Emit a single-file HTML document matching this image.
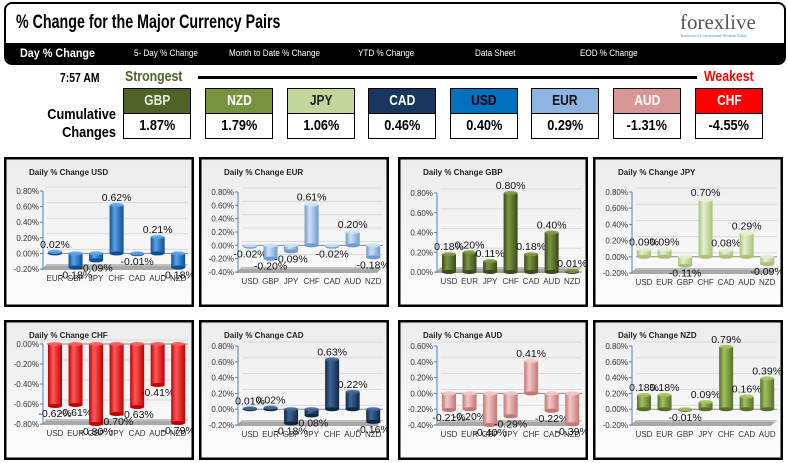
<!DOCTYPE html>
<html><head><meta charset="utf-8">
<style>
body{margin:0;width:788px;height:463px;background:#fff;position:relative;overflow:hidden;font-family:"Liberation Sans",sans-serif}
.abs{position:absolute}
.hdr{left:4px;top:2px;width:778px;height:59px;border:2px solid #000;border-radius:8px;background:#fff;overflow:hidden}
.nav{left:0;top:39px;width:778px;height:22px;background:#000}
.nav span{position:absolute;top:5px;color:#fff;font-size:9px;transform:scaleX(.9);transform-origin:left}
.title{left:10px;top:8px;font-weight:bold;font-size:19px;transform:scaleX(.75);transform-origin:left;white-space:nowrap}
.box{width:66px;height:49px;border:1px solid #000;top:88px}
.box .h{height:24px;border-bottom:1px solid #000;text-align:center;font-weight:bold;font-size:15px;line-height:24px}
.box .h span{display:inline-block;transform:scaleX(.8)}
.box .v{height:24px;text-align:center;font-weight:bold;font-size:15px;line-height:24px;background:#fff}
.box .v span{display:inline-block;transform:scaleX(.85)}
svg text{font-family:"Liberation Sans",sans-serif}
</style></head><body>
<div class="abs hdr">
  <div class="abs title">% Change for the Major Currency Pairs</div>
  <div class="abs" style="left:674px;top:6px;font-family:'Liberation Serif',serif;font-size:21px;color:#555">forexlive<div style="font-size:4px;color:#4a8ac0;margin-top:-2px">Tomorrow's Conventional Wisdom Today</div></div>
  <div class="abs nav">
    <span style="left:14px;top:3px;font-size:12px;font-weight:bold">Day % Change</span>
    <span style="left:128px">5- Day % Change</span>
    <span style="left:223px">Month to Date % Change</span>
    <span style="left:352px">YTD % Change</span>
    <span style="left:469px">Data Sheet</span>
    <span style="left:574px">EOD % Change</span>
  </div>
</div>
<div class="abs" style="left:60px;top:70px;font-weight:bold;font-size:13px;transform:scaleX(.8);transform-origin:left">7:57 AM</div>
<div class="abs" style="left:125px;top:68px;font-weight:bold;font-size:15px;color:#4f6228;transform:scaleX(.82);transform-origin:left">Strongest</div>
<div class="abs" style="left:198px;top:76px;width:499px;height:3px;background:#000"></div>
<div class="abs" style="left:704px;top:68px;font-weight:bold;font-size:15px;color:#f00;transform:scaleX(.82);transform-origin:left">Weakest</div>
<div class="abs" style="left:20px;top:106px;width:96px;text-align:right;font-weight:bold;font-size:15px;line-height:18px;transform:scaleX(.85);transform-origin:right">Cumulative<br>Changes</div>
<div id="boxes"></div>
<div id="charts"></div>
<script>
const boxCurr=["GBP","NZD","JPY","CAD","USD","EUR","AUD","CHF"];
const boxVals=["1.87%","1.79%","1.06%","0.46%","0.40%","0.29%","-1.31%","-4.55%"];
const boxBg=["#4f6228","#77933c","#c3d69b","#17375e","#0070c0","#8db4e2","#d99694","#ff0000"];
const boxFg=["#e8ecd8","#fff","#222","#fff","#000","#111","#fff","#fff"];
const boxX=[123,205,287,368,450,531,613,695];
const bc=document.getElementById('boxes');
boxCurr.forEach((c,i)=>{
  const d=document.createElement('div');
  d.className='abs box';d.style.left=boxX[i]+'px';
  
  
  d.innerHTML='<div class="h" style="background:'+boxBg[i]+';color:'+boxFg[i]+'"><span>'+c+'</span></div><div class="v"><span>'+boxVals[i]+'</span></div>';
  bc.appendChild(d);
});

const usdCats=["EUR","GBP","JPY","CHF","CAD","AUD","NZD"];
const usdVals=[0.02,-0.18,-0.09,0.62,-0.01,0.21,-0.18];
const usdTicks=[0.8,0.6,0.4,0.2,0,-0.2];
const eurCats=["USD","GBP","JPY","CHF","CAD","AUD","NZD"];
const eurVals=[-0.02,-0.20,-0.09,0.61,-0.02,0.20,-0.18];
const eurTicks=[0.8,0.6,0.4,0.2,0,-0.2,-0.4];
const gbpCats=["USD","EUR","JPY","CHF","CAD","AUD","NZD"];
const gbpVals=[0.18,0.20,0.11,0.80,0.18,0.40,0.01];
const gbpTicks=[0.8,0.6,0.4,0.2,0];
const jpyCats=["USD","EUR","GBP","CHF","CAD","AUD","NZD"];
const jpyVals=[0.09,0.09,-0.11,0.70,0.08,0.29,-0.09];
const jpyTicks=[0.8,0.6,0.4,0.2,0,-0.2];
const chfCats=["USD","EUR","GBP","JPY","CAD","AUD","NZD"];
const chfVals=[-0.62,-0.61,-0.80,-0.70,-0.63,-0.41,-0.79];
const chfTicks=[0,-0.2,-0.4,-0.6,-0.8];
const cadCats=["USD","EUR","GBP","JPY","CHF","AUD","NZD"];
const cadVals=[0.01,0.02,-0.18,-0.08,0.63,0.22,-0.16];
const cadTicks=[0.8,0.6,0.4,0.2,0,-0.2];
const audCats=["USD","EUR","GBP","JPY","CHF","CAD","NZD"];
const audVals=[-0.21,-0.20,-0.40,-0.29,0.41,-0.22,-0.39];
const audTicks=[0.6,0.4,0.2,0,-0.2,-0.4];
const nzdCats=["USD","EUR","GBP","JPY","CHF","CAD","AUD"];
const nzdVals=[0.18,0.18,-0.01,0.09,0.79,0.16,0.39];
const nzdTicks=[0.8,0.6,0.4,0.2,0,-0.2];

const NS='http://www.w3.org/2000/svg';
const holder=document.getElementById('charts');
function el(tag,attrs,parent){const e=document.createElementNS(NS,tag);for(const k in attrs)e.setAttribute(k,attrs[k]);parent.appendChild(e);return e;}

function chart(key,title,cats,vals,ticks,dark,light,px,py,pw,ph,t0,t1){
  const svg=document.createElementNS(NS,'svg');
  svg.setAttribute('width',pw);svg.setAttribute('height',ph);
  svg.style.position='absolute';svg.style.left=px+'px';svg.style.top=py+'px';
  
  
  holder.appendChild(svg);
  const defs=el('defs',{},svg);
  const bg=el('linearGradient',{id:'bg'+key,x1:0,y1:0,x2:0,y2:1},defs);
  el('stop',{offset:0,'stop-color':'#ececec'},bg);el('stop',{offset:1,'stop-color':'#fdfdfd'},bg);
  const g=el('linearGradient',{id:'g'+key,x1:0,y1:0,x2:1,y2:0},defs);
  el('stop',{offset:0,'stop-color':dark},g);el('stop',{offset:0.35,'stop-color':light},g);el('stop',{offset:1,'stop-color':dark},g);
  el('rect',{x:1.25,y:1.25,width:pw-2.5,height:ph-2.5,fill:'url(#bg'+key+')',stroke:'#000','stroke-width':2.5},svg);
  const tt=el('text',{x:25,y:18,'font-size':8,'font-weight':'bold',fill:'#222'},svg);tt.textContent=title;
  
  
  const yMax=ticks[0],yMin=ticks[ticks.length-1];
  const ax=39,right=178;
  const y=v=>t0+(yMax-v)/(yMax-yMin)*(t1-t0);
  const x=i=>ax+12+i*(right-ax-12)/(cats.length-1)*0.97;
  const fy=y(yMin);
  const fl=el('polygon',{points:`${ax+4},${fy-5} ${right+6},${fy-5} ${right},${fy+1} ${ax-2},${fy+1}`,fill:'#a8a8a8'},svg);
  
  
  ticks.forEach(tv=>{
    const ty=y(tv);
    el('line',{x1:ax+4,x2:right+6,y1:ty-4,y2:ty-4,stroke:'#d8d8d8','stroke-width':1},svg);
    el('line',{x1:ax-3,x2:ax,y1:ty,y2:ty,stroke:'#4f81bd'},svg);
    const lt=el('text',{x:ax-4,y:ty+3,'font-size':8,'text-anchor':'end',fill:'#333'},svg);
    lt.textContent=tv.toFixed(2)+'%';
    
    
  });
  el('line',{x1:ax,x2:ax,y1:y(yMax),y2:fy,stroke:'#4f81bd','stroke-width':1},svg);
  const zy=y(0);
  el('line',{x1:ax+4,x2:right+6,y1:zy,y2:zy,stroke:'#888','stroke-width':1},svg);
  cats.forEach((c,i)=>{
    const cx=x(i),v=vals[i],w=14;
    const top=Math.min(y(v),zy),bot=Math.max(y(v),zy);
    const r=el('rect',{x:cx-w/2,y:top,width:w,height:Math.max(bot-top,0.5),fill:'url(#g'+key+')'},svg);
    
    
    el('ellipse',{cx:cx,cy:bot,rx:w/2,ry:2,fill:dark},svg);
    el('ellipse',{cx:cx,cy:top,rx:w/2,ry:2,fill:light,opacity:0.9},svg);
    const ct=el('text',{x:cx,y:fy+12,'font-size':8,'text-anchor':'middle',fill:'#333'},svg);
    ct.textContent=c;
    
    
    const vt=el('text',{x:cx,y:v>=0?top-4:bot+11,'font-size':10.5,'text-anchor':'middle',fill:'#111'},svg);
    vt.textContent=v.toFixed(2)+'%';
    
    
  });
}
chart('usd','Daily % Change USD',usdCats,usdVals,usdTicks,'#0b4f94','#5aa2e8',4,157,190,150,34,112);
chart('eur','Daily % Change EUR',eurCats,eurVals,eurTicks,'#6e9bd0','#cfe1f5',199,157,190,150,35,115);
chart('gbp','Daily % Change GBP',gbpCats,gbpVals,gbpTicks,'#3a4a1c','#7d9640',398,157,190,150,36,115);
chart('jpy','Daily % Change JPY',jpyCats,jpyVals,jpyTicks,'#a9c278','#e6f0cf',593,157,190,150,35,116);
chart('chf','Daily % Change CHF',chfCats,chfVals,chfTicks,'#c00000','#ff5a5a',4,320,190,140,24,104);
chart('cad','Daily % Change CAD',cadCats,cadVals,cadTicks,'#0f2846','#3f6797',199,320,190,140,26,105);
chart('aud','Daily % Change AUD',audCats,audVals,audTicks,'#c47774','#f2c8c6',398,320,190,140,26,105);
chart('nzd','Daily % Change NZD',nzdCats,nzdVals,nzdTicks,'#55702a','#a3c15c',593,320,190,140,26,105);
</script>
</body></html>
